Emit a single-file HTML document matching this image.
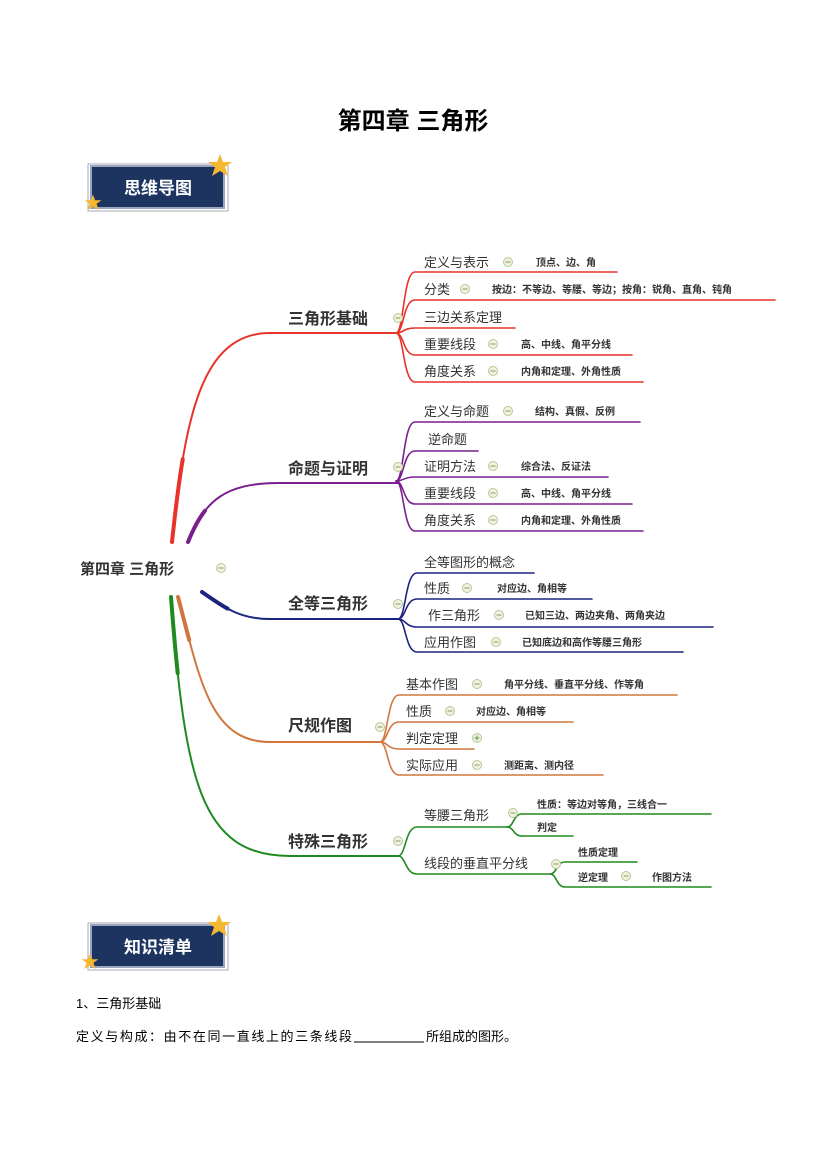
<!DOCTYPE html>
<html><head><meta charset="utf-8">
<style>
html,body{margin:0;padding:0;background:#fff;}
body{width:827px;height:1169px;overflow:hidden;}
svg text{font-family:"Liberation Sans","Noto Sans CJK SC",sans-serif;}
</style></head>
<body>
<svg width="827" height="1169" viewBox="0 0 827 1169" xmlns="http://www.w3.org/2000/svg">
<defs>
<g id="star"><polygon points="0,-12 3,-4 12,-4 5,1 8,10 0,5 -8,10 -5,1 -12,-4 -3,-4" fill="#f5b731"/></g>
<g id="mc"><circle r="4.5" fill="#eef3dc" stroke="#b9c79a" stroke-width="1"/><line x1="-2.5" y1="0" x2="2.5" y2="0" stroke="#8a9a6a" stroke-width="1"/></g>
<g id="pc"><circle r="4.5" fill="#eef3dc" stroke="#b9c79a" stroke-width="1"/><line x1="-2.5" y1="0" x2="2.5" y2="0" stroke="#6a9a4a" stroke-width="1"/><line x1="0" y1="-2.5" x2="0" y2="2.5" stroke="#6a9a4a" stroke-width="1"/></g>
</defs>

<text x="413" y="129" font-size="24" font-weight="bold" text-anchor="middle" fill="#000">第四章  三角形</text>

<!-- badge 1 -->
<rect x="88" y="164" width="140" height="47" fill="#fff" stroke="#aab" stroke-width="1"/>
<rect x="91" y="166" width="133" height="42" fill="#1d3461" stroke="#9aa6bd" stroke-width="2"/>
<text x="158" y="194" font-size="17" font-weight="bold" fill="#fff" text-anchor="middle">思维导图</text>
<use href="#star" x="220" y="166"/>
<use href="#star" x="93" y="203" transform="translate(93,203) scale(0.7) translate(-93,-203)"/>

<!-- badge 2 -->
<rect x="88" y="923" width="140" height="47" fill="#fff" stroke="#aab" stroke-width="1"/>
<rect x="91" y="925" width="133" height="42" fill="#1d3461" stroke="#9aa6bd" stroke-width="2"/>
<text x="158" y="953" font-size="17" font-weight="bold" fill="#fff" text-anchor="middle">知识清单</text>
<use href="#star" x="219" y="926"/>
<use href="#star" x="90" y="962" transform="translate(90,962) scale(0.7) translate(-90,-962)"/>

<!-- root -->
<text x="80" y="574" font-size="15" font-weight="bold" fill="#333">第四章 三角形</text>
<use href="#mc" x="221" y="568"/>

<g fill="none" stroke-linecap="round">
<!-- main branches -->
<path d="M172,542 C185,420 200,333 270,333 L398,333" stroke="#e8322a" stroke-width="2"/>
<path d="M172,542 C185,420 200,333 270,333 L398,333" stroke="#e8322a" stroke-width="4" pathLength="100" stroke-dasharray="22 200"/>
<path d="M188,542 C205,500 225,483 280,483 L398,483" stroke="#7a1f8e" stroke-width="2"/>
<path d="M188,542 C205,500 225,483 280,483 L398,483" stroke="#7a1f8e" stroke-width="4" pathLength="100" stroke-dasharray="15 200"/>
<path d="M202,592 C225,608 240,619 270,619 L398,619" stroke="#1c2480" stroke-width="2"/>
<path d="M202,592 C225,608 240,619 270,619 L398,619" stroke="#1c2480" stroke-width="4" pathLength="100" stroke-dasharray="15 200"/>
<path d="M178,597 C200,680 210,742 270,742 L380,742" stroke="#d2763f" stroke-width="2"/>
<path d="M178,597 C200,680 210,742 270,742 L380,742" stroke="#d2763f" stroke-width="4" pathLength="100" stroke-dasharray="15 200"/>
<path d="M171,597 C185,780 200,856 290,856 L398,856" stroke="#1f8a1f" stroke-width="2"/>
<path d="M171,597 C185,780 200,856 290,856 L398,856" stroke="#1f8a1f" stroke-width="4" pathLength="100" stroke-dasharray="18 200"/>

<!-- hub 1 red -->
<g stroke="#e8322a" stroke-width="1.6">
<path d="M396,333 C404,333 403,272 415,272 L617,272"/>
<path d="M396,333 C404,333 403,300 415,300 L775,300"/>
<path d="M396,333 C404,333 403,328 415,328 L515,328"/>
<path d="M396,333 C404,333 403,355 415,355 L632,355"/>
<path d="M396,333 C404,333 403,382 415,382 L643,382"/>
</g>
<!-- hub 2 purple -->
<g stroke="#7a1f8e" stroke-width="1.6">
<path d="M396,481 C404,481 403,422 415,422 L640,422"/>
<path d="M396,481 C404,481 403,451 415,451 L478,451"/>
<path d="M396,481 C404,481 403,477 415,477 L608,477"/>
<path d="M396,481 C404,481 403,504 415,504 L632,504"/>
<path d="M396,481 C404,481 403,531 415,531 L643,531"/>
</g>
<!-- hub 3 navy -->
<g stroke="#1c2480" stroke-width="1.6">
<path d="M398,619 C406,619 405,573 417,573 L534,573"/>
<path d="M398,619 C406,619 405,599 417,599 L592,599"/>
<path d="M398,619 C406,619 405,627 417,627 L713,627"/>
<path d="M398,619 C406,619 405,652 417,652 L683,652"/>
</g>
<!-- hub 4 orange -->
<g stroke="#d2763f" stroke-width="1.6">
<path d="M380,742 C388,742 387,695 399,695 L677,695"/>
<path d="M380,742 C388,742 387,722 399,722 L573,722"/>
<path d="M380,742 C388,742 387,749 399,749 L474,749"/>
<path d="M380,742 C388,742 387,775 399,775 L603,775"/>
</g>
<!-- hub 5 green -->
<g stroke="#1f8a1f" stroke-width="1.6">
<path d="M398,856 C406,856 405,827 417,827 L507,827"/>
<path d="M398,856 C406,856 405,874 417,874 L550,874"/>
<path d="M507,827 C514,827 513,814 522,814 L711,814"/>
<path d="M507,827 C514,827 513,836 522,836 L573,836"/>
<path d="M550,874 C557,874 556,862 565,862 L637,862"/>
<path d="M550,874 C557,874 556,887 565,887 L711,887"/>
</g>
</g>

<!-- main labels -->
<g font-size="16" font-weight="bold" fill="#333">
<text x="288" y="324">三角形基础</text>
<text x="288" y="474">命题与证明</text>
<text x="288" y="609">全等三角形</text>
<text x="288" y="731">尺规作图</text>
<text x="288" y="847">特殊三角形</text>
</g>
<use href="#mc" x="398" y="318"/>
<use href="#mc" x="398" y="467"/>
<use href="#mc" x="398" y="604"/>
<use href="#mc" x="380" y="727"/>
<use href="#mc" x="398" y="841"/>

<!-- child labels -->
<g font-size="13" fill="#333">
<text x="424" y="267">定义与表示</text>
<text x="424" y="294">分类</text>
<text x="424" y="322">三边关系定理</text>
<text x="424" y="349">重要线段</text>
<text x="424" y="376">角度关系</text>
<text x="424" y="416">定义与命题</text>
<text x="428" y="444">逆命题</text>
<text x="424" y="471">证明方法</text>
<text x="424" y="498">重要线段</text>
<text x="424" y="525">角度关系</text>
<text x="424" y="567">全等图形的概念</text>
<text x="424" y="593">性质</text>
<text x="428" y="620">作三角形</text>
<text x="424" y="647">应用作图</text>
<text x="406" y="689">基本作图</text>
<text x="406" y="716">性质</text>
<text x="406" y="743">判定定理</text>
<text x="406" y="770">实际应用</text>
<text x="424" y="820">等腰三角形</text>
<text x="424" y="868">线段的垂直平分线</text>
</g>
<use href="#mc" x="508" y="262"/>
<use href="#mc" x="465" y="289"/>
<use href="#mc" x="493" y="344"/>
<use href="#mc" x="493" y="371"/>
<use href="#mc" x="508" y="411"/>
<use href="#mc" x="493" y="466"/>
<use href="#mc" x="493" y="493"/>
<use href="#mc" x="493" y="520"/>
<use href="#mc" x="467" y="588"/>
<use href="#mc" x="499" y="615"/>
<use href="#mc" x="496" y="642"/>
<use href="#mc" x="477" y="684"/>
<use href="#mc" x="450" y="711"/>
<use href="#pc" x="477" y="738"/>
<use href="#mc" x="477" y="765"/>
<use href="#mc" x="513" y="813"/>
<use href="#mc" x="556" y="864"/>
<use href="#mc" x="626" y="876"/>

<!-- leaf labels -->
<g font-size="10" font-weight="bold" fill="#333">
<text x="536" y="266">顶点、边、角</text>
<text x="492" y="293">按边：不等边、等腰、等边；按角：锐角、直角、钝角</text>
<text x="521" y="348">高、中线、角平分线</text>
<text x="521" y="375">内角和定理、外角性质</text>
<text x="535" y="415">结构、真假、反例</text>
<text x="521" y="470">综合法、反证法</text>
<text x="521" y="497">高、中线、角平分线</text>
<text x="521" y="524">内角和定理、外角性质</text>
<text x="497" y="592">对应边、角相等</text>
<text x="525" y="619">已知三边、两边夹角、两角夹边</text>
<text x="522" y="646">已知底边和高作等腰三角形</text>
<text x="504" y="688">角平分线、垂直平分线、作等角</text>
<text x="476" y="715">对应边、角相等</text>
<text x="504" y="769">测距离、测内径</text>
<text x="537" y="808">性质：等边对等角，三线合一</text>
<text x="537" y="831">判定</text>
<text x="578" y="856">性质定理</text>
<text x="578" y="881">逆定理</text>
<text x="652" y="881">作图方法</text>
</g>

<!-- body text -->
<g font-size="13" fill="#000">
<text x="76" y="1008">1、三角形基础</text>
<text x="76" y="1041" textLength="276" lengthAdjust="spacing">定义与构成：由不在同一直线上的三条线段</text>
<text x="426" y="1041">所组成的图形。</text>
</g>
<line x1="354" y1="1042" x2="424" y2="1042" stroke="#000" stroke-width="1"/>
</svg>
</body></html>
